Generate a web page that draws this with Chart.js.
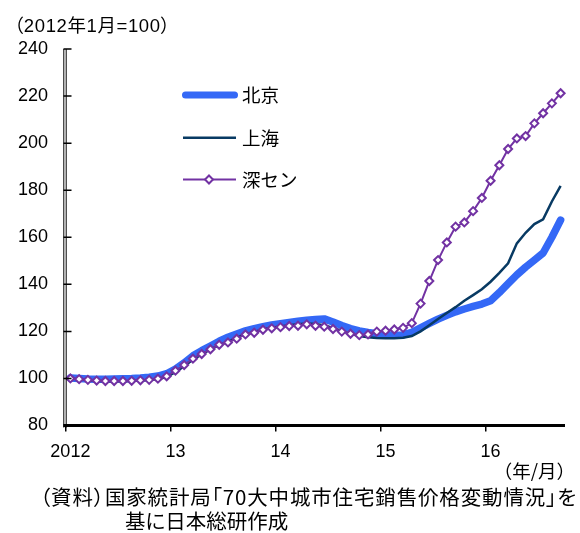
<!DOCTYPE html>
<html><head><meta charset="utf-8">
<script src="https://cdn.jsdelivr.net/npm/chart.js@4.4.1/dist/chart.umd.min.js"></script>
<style>
html,body{margin:0;padding:0;background:#fff;}
#wrap{position:relative;width:580px;height:533px;overflow:hidden;}
#c{position:absolute;left:0;top:0;}
.t{position:absolute;white-space:nowrap;color:#000;font-family:'Liberation Sans','Noto Sans CJK JP',sans-serif;line-height:1;}
.p{font-feature-settings:'palt';}
</style></head><body>
<div id="wrap">
<canvas id="c" width="580" height="533"></canvas>
<div class="t p" style="left:14px;top:17px;font-size:18.5px;letter-spacing:0.6px;">（2012年1月=100）</div>
<div class="t" style="right:5px;top:461px;font-size:18.5px;font-family:'Noto Sans CJK JP';">（年/月）</div>
<div class="t p" style="left:40px;top:486px;font-size:20.5px;letter-spacing:0.85px;font-family:'Noto Sans CJK JP';">（資料）国家統計局「70大中城市住宅銷售价格変動情況」を</div>
<div class="t p" style="left:125px;top:510px;font-size:20.5px;font-family:'Noto Sans CJK JP';">基に日本総研作成</div>
</div>
<script>
// Monthly house price index, 2012-01 .. 2016-09 (2012-01 = 100)
const yearLabels = ['2012', '13', '14', '15', '16'];
const months = [];
for (let y = 2012; y <= 2016; y++) {
  for (let m = 1; m <= 12; m++) {
    if (y === 2016 && m > 9) break;
    months.push(y + '-' + String(m).padStart(2, '0'));
  }
}
const seriesNames = ['北京', '上海', '深セン'];

const beijing = [
  100.2, 100.0, 99.8, 99.7, 99.7, 99.8, 99.9, 100.0, 100.2, 100.5, 101.0, 102.0,
  104.0, 106.6, 109.6, 111.8, 113.8, 115.8, 117.5, 118.9, 120.2, 121.2, 122.0, 122.7,
  123.3, 123.8, 124.3, 124.7, 125.0, 125.3, 124.0, 122.5, 121.2, 120.2, 119.5, 119.0,
  118.6, 118.4, 118.5, 119.6, 121.5, 123.4, 125.2, 126.8, 128.3, 129.5, 130.6, 131.6,
  133.0, 136.5, 140.3, 144.0, 147.3, 150.3, 153.3, 160.0, 167.3
];
const shanghai = [
  100.0, 99.6, 99.3, 99.0, 98.8, 98.8, 98.8, 98.9, 99.1, 99.3, 99.8, 100.6,
  102.8, 105.2, 108.0, 110.2, 112.3, 114.2, 115.6, 117.2, 118.8, 119.8, 120.8, 121.5,
  122.1, 122.6, 123.0, 123.3, 123.1, 122.6, 121.5, 120.2, 119.0, 118.0, 117.5, 117.2,
  117.1, 117.1, 117.3, 118.0, 120.0, 122.6, 125.3, 127.8, 130.3, 133.0, 135.4, 137.9,
  141.1, 144.9, 148.9, 157.4, 161.9, 165.6, 167.6, 175.2, 181.8
];
const shenzhen = [
  100.0, 99.7, 99.4, 99.1, 98.9, 98.9, 98.9, 99.0, 99.2, 99.4, 99.9, 100.9,
  103.3, 105.7, 108.4, 110.4, 112.4, 114.3, 115.3, 116.9, 118.7, 119.4, 120.7, 121.3,
  121.8, 122.3, 122.4, 123.0, 122.4, 122.0, 121.0, 119.9, 119.0, 118.4, 118.7, 119.9,
  120.3, 120.8, 121.5, 123.5, 131.8, 141.4, 150.3, 157.8, 164.5, 166.3, 171.1, 176.7,
  184.0, 190.6, 197.5, 202.0, 203.0, 208.4, 212.7, 216.9, 221.2
];
const yTicks = [80, 100, 120, 140, 160, 180, 200, 220, 240];

const COLORS = { bj: '#3468f6', sh: '#083a63', sz: '#7232a3' };
const NUM_FONT = "'Liberation Sans', Arial, sans-serif";

// axis lines, inward y ticks and the in-plot legend
const decor = {
  id: 'decor',
  afterDraw(chart) {
    const { ctx, chartArea: a, scales: { y } } = chart;
    ctx.save();
    ctx.strokeStyle = '#000';
    // y axis (double rule)
    ctx.lineWidth = 1;
    ctx.beginPath();
    ctx.moveTo(63.8, a.top); ctx.lineTo(63.8, a.bottom + 2);
    ctx.moveTo(66.2, a.top); ctx.lineTo(66.2, a.bottom + 2);
    ctx.stroke();
    // inward y ticks
    ctx.lineWidth = 1.5;
    ctx.beginPath();
    yTicks.forEach(v => {
      if (v === y.min) return;
      const py = y.getPixelForValue(v);
      ctx.moveTo(63.5, py); ctx.lineTo(71.5, py);
    });
    ctx.stroke();
    // x axis
    ctx.lineWidth = 3;
    ctx.beginPath();
    ctx.moveTo(63.3, a.bottom); ctx.lineTo(a.right, a.bottom);
    ctx.stroke();

    // legend
    const lx0 = 185.5, lx1 = 234.5, tx = 242;
    ctx.lineCap = 'round';
    ctx.strokeStyle = COLORS.bj; ctx.lineWidth = 7;
    ctx.beginPath(); ctx.moveTo(lx0, 95); ctx.lineTo(lx1, 95); ctx.stroke();
    ctx.lineCap = 'butt';
    ctx.strokeStyle = COLORS.sh; ctx.lineWidth = 2.5;
    ctx.beginPath(); ctx.moveTo(183, 137.7); ctx.lineTo(236, 137.7); ctx.stroke();
    ctx.strokeStyle = COLORS.sz; ctx.lineWidth = 2;
    ctx.beginPath(); ctx.moveTo(183, 179.5); ctx.lineTo(236, 179.5); ctx.stroke();
    ctx.fillStyle = '#fff'; ctx.lineWidth = 2;
    ctx.beginPath();
    ctx.moveTo(209, 175.5); ctx.lineTo(213, 179.5); ctx.lineTo(209, 183.5); ctx.lineTo(205, 179.5); ctx.closePath();
    ctx.fill(); ctx.stroke();

    ctx.fillStyle = '#000';
    ctx.font = "18.5px 'Noto Sans CJK JP'";
    ctx.textBaseline = 'middle';
    ctx.fillText(seriesNames[0], tx, 95);
    ctx.fillText(seriesNames[1], tx, 137.5);
    ctx.fillText(seriesNames[2], tx, 180);
    ctx.restore();
  }
};

new Chart(document.getElementById('c'), {
  type: 'line',
  data: {
    labels: months,
    datasets: [
      { label: seriesNames[2], data: shenzhen, order: 1, borderColor: COLORS.sz, borderWidth: 2,
        pointStyle: 'rectRot', pointRadius: 4, pointBorderWidth: 2,
        pointBackgroundColor: '#fff', pointBorderColor: COLORS.sz, tension: 0 },
      { label: seriesNames[1], data: shanghai, order: 2, borderColor: COLORS.sh, borderWidth: 2.5,
        pointRadius: 0, tension: 0 },
      { label: seriesNames[0], data: beijing, order: 3, borderColor: COLORS.bj, borderWidth: 7.5,
        borderCapStyle: 'round', borderJoinStyle: 'round', pointRadius: 0, tension: 0 }
    ]
  },
  options: {
    responsive: false,
    devicePixelRatio: 1,
    animation: false,
    layout: { padding: { top: 49, right: 15, left: 0, bottom: 0 } },
    plugins: { legend: { display: false }, tooltip: { enabled: false }, title: { display: false } },
    scales: {
      x: {
        type: 'category',
        offset: true,
        border: { display: false },
        grid: {
          offset: true,
          drawOnChartArea: false,
          drawTicks: true,
          tickLength: 6,
          lineWidth: 1.5,
          color: c => (c.index % 12 === 0 && c.index < months.length) ? '#000' : 'rgba(0,0,0,0)'
        },
        ticks: {
          autoSkip: false,
          maxRotation: 0,
          padding: 10,
          color: '#000',
          font: { family: NUM_FONT, size: 18 },
          callback: (v, i) => (i % 12 === 0) ? yearLabels[i / 12] : ''
        },
        afterFit: s => { s.height = 533 - 425.5; }
      },
      y: {
        min: 80, max: 240,
        border: { display: false },
        grid: { display: false, drawTicks: false },
        ticks: {
          stepSize: 20,
          padding: 18,
          color: '#000',
          font: { family: NUM_FONT, size: 18 }
        },
        afterFit: s => { s.width = 66; }
      }
    }
  },
  plugins: [decor]
});
</script>
</body></html>
